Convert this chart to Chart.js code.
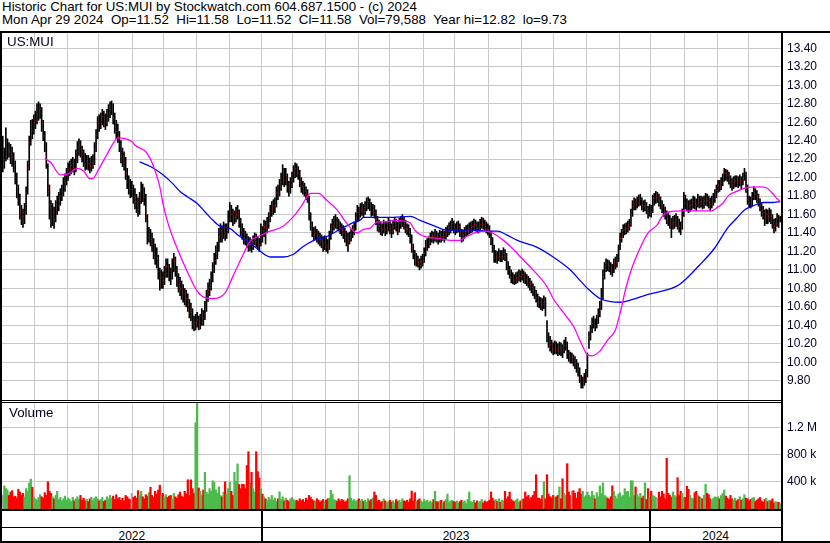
<!DOCTYPE html>
<html>
<head>
<meta charset="utf-8">
<script src="https://cdn.jsdelivr.net/npm/chart.js@4.4.1/dist/chart.umd.min.js"></script>
<style>
  html, body { margin: 0; padding: 0; background: #fff; }
  #wrap { position: relative; width: 830px; height: 543px; overflow: hidden; background: #fff;
          font-family: Arial, "Liberation Sans", sans-serif; color: #000; }
  .txt { position: absolute; white-space: pre; line-height: 14px; }
  .hdr { left: 2px; font-size: 13.33px; }
  .lbl { font-size: 13.33px; color: #000022; }
  .yr { font-size: 12px; text-align: center; width: 60px; top: 529px; }
  .ln { position: absolute; background: #000; }
  canvas { position: absolute; left: 0; }
</style>
</head>
<body>
<div id="wrap">
  <div class="txt hdr" style="top:0px">Historic Chart for US:MUI by Stockwatch.com 604.687.1500 - (c) 2024</div>
  <div class="txt hdr" style="top:13px">Mon Apr 29 2024  Op=11.52  Hi=11.58  Lo=11.52  Cl=11.58  Vol=79,588  Year hi=12.82  lo=9.73</div>
  <canvas id="priceChart" width="830" height="367" style="top:33px"></canvas>
  <canvas id="volChart" width="830" height="106" style="top:403px"></canvas>
  <div class="txt lbl" style="left:7px; top:35px">US:MUI</div>
  <div class="txt lbl" style="left:9px; top:406px">Volume</div>
  <div class="ln" style="left:0; top:31px; width:830px; height:2px"></div>
  <div class="ln" style="left:0; top:400px; width:782px; height:1px"></div>
  <div class="ln" style="left:0; top:402px; width:782px; height:1px"></div>
  <div class="ln" style="left:0; top:509px; width:782px; height:2px"></div>
  <div class="ln" style="left:0; top:527px; width:782px; height:1px"></div>
  <div class="ln" style="left:0; top:541px; width:830px; height:2px"></div>
  <div class="ln" style="left:0; top:31px; width:2px; height:512px"></div>
  <div class="ln" style="left:781px; top:31px; width:2px; height:512px"></div>
  <div id="years"></div>
</div>
<script>
// bars per month as spaced on the chart, May 2022 .. Apr 2024
const monthDays = [21,21,20,22,20,21,21,21, 20,21,21,20,22,20,22,21,21,21,21,20, 22,21,20,21];
const yearNames = ['2022', '2023', '2024'];
const yearMonthCount = [8, 12, 4];

const priceTicks = [9.8,10.0,10.2,10.4,10.6,10.8,11.0,11.2,11.4,11.6,11.8,12.0,12.2,12.4,12.6,12.8,13.0,13.2,13.4];
const volTicks = [400, 800, 1200];
const volTickLabels = ['400 k', '800 k', '1.2 M'];

const closes = [
  12.17,12.20,12.24,12.30,12.28,12.25,12.22,12.13,12.00,11.85,11.78,11.62,11.58,11.52,11.63,11.83,12.10,12.38,12.53,12.50,12.60,
  12.62,12.68,12.72,12.74,12.57,12.45,12.35,12.17,11.88,11.70,11.58,11.62,11.55,11.67,11.70,11.75,11.80,11.85,11.90,11.95,12.02,
  12.08,12.10,12.13,12.15,12.10,12.20,12.28,12.35,12.30,12.25,12.20,12.15,12.18,12.15,12.12,12.16,12.17,12.30,12.46,12.60,
  12.58,12.62,12.66,12.63,12.60,12.65,12.70,12.74,12.78,12.65,12.55,12.50,12.45,12.35,12.23,12.20,12.16,12.05,11.95,11.90,11.87,11.87,11.80,
  11.74,11.70,11.65,11.75,11.87,11.82,11.78,11.60,11.35,11.38,11.33,11.28,11.20,11.15,11.13,10.98,10.86,10.92,10.88,10.95,11.04,
  11.00,10.96,10.93,11.02,11.10,11.00,10.90,10.84,10.80,10.76,10.73,10.70,10.69,10.62,10.56,10.54,10.42,10.40,10.43,10.46,10.41,
  10.44,10.50,10.48,10.58,10.70,10.78,10.81,10.90,11.00,11.10,11.18,11.22,11.35,11.41,11.38,11.45,11.40,11.42,11.55,11.65,11.60,
  11.55,11.57,11.60,11.62,11.52,11.43,11.40,11.35,11.33,11.30,11.27,11.28,11.25,11.30,11.34,11.31,11.28,11.27,11.43,11.38,11.47,
  11.45,11.50,11.54,11.62,11.67,11.69,11.70,11.84,11.83,11.90,11.95,12.07,11.97,12.02,11.90,11.87,11.92,11.98,12.05,12.10,
  12.08,12.05,11.95,11.90,11.88,11.85,11.82,11.79,11.60,11.48,11.42,11.38,11.40,11.36,11.35,11.33,11.31,11.28,11.30,
  11.27,11.25,11.35,11.43,11.47,11.50,11.52,11.50,11.48,11.45,11.43,11.40,11.38,11.35,11.32,11.35,11.38,11.42,11.45,11.55,11.62,11.60,11.65,
  11.66,11.63,11.68,11.72,11.74,11.70,11.63,11.65,11.62,11.55,11.48,11.47,11.45,11.44,11.48,11.43,11.46,11.50,11.45,
  11.42,11.47,11.51,11.48,11.43,11.50,11.52,11.54,11.50,11.45,11.44,11.42,11.35,11.25,11.18,11.10,11.12,11.08,11.05,11.09,11.10,11.18,
  11.25,11.28,11.30,11.34,11.36,11.35,11.38,11.36,11.34,11.37,11.36,11.38,11.36,11.40,11.42,11.45,11.47,11.50,11.46,11.44,11.46,
  11.47,11.41,11.35,11.37,11.40,11.42,11.43,11.45,11.46,11.47,11.49,11.48,11.45,11.46,11.49,11.51,11.49,11.47,11.45,11.43,
  11.40,11.32,11.25,11.13,11.15,11.13,11.17,11.14,11.15,11.18,11.15,11.05,11.00,10.96,10.92,10.90,10.89,10.91,10.92,10.94,10.93,10.95,10.92,
  10.90,10.88,10.86,10.84,10.81,10.78,10.75,10.70,10.66,10.65,10.63,10.62,10.66,10.64,10.28,10.22,10.19,10.15,10.13,10.17,
  10.15,10.13,10.16,10.14,10.12,10.18,10.21,10.10,10.06,10.05,10.05,10.02,9.99,9.95,9.92,9.84,9.74,9.78,9.82,9.85,10.05,10.28,
  10.35,10.42,10.44,10.40,10.45,10.52,10.60,10.70,10.93,11.00,11.07,11.05,11.04,11.02,11.00,11.06,11.08,11.11,11.20,11.34,11.38,
  11.43,11.44,11.45,11.47,11.49,11.60,11.69,11.72,11.71,11.73,11.75,11.76,11.70,11.68,11.70,11.66,11.61,11.65,11.63,11.75,
  11.77,11.79,11.79,11.75,11.72,11.68,11.64,11.61,11.56,11.54,11.52,11.49,11.51,11.52,11.55,11.50,11.47,11.45,11.60,11.79,11.72,
  11.70,11.68,11.70,11.71,11.74,11.72,11.70,11.76,11.73,11.74,11.72,11.74,11.77,11.75,11.73,11.71,11.74,11.77,11.81,11.86,
  11.92,11.90,11.94,11.98,12.05,12.03,12.02,11.99,11.95,11.92,11.95,11.97,11.96,11.95,11.97,11.94,11.99,12.05,11.90,11.76,
  11.73,11.72,11.78,11.85,11.82,11.79,11.75,11.70,11.65,11.62,11.57,11.60,11.58,11.61,11.58,11.52,11.47,11.50,11.56,11.52,11.58
];

const highs = [
  12.45,12.32,12.54,12.42,12.38,12.36,12.33,12.27,12.18,12.05,11.92,11.82,11.70,11.66,11.72,11.90,12.18,12.45,12.62,12.63,12.68,
  12.72,12.80,12.82,12.80,12.76,12.62,12.50,12.38,12.15,11.92,11.75,11.72,11.68,11.75,11.80,11.84,11.88,11.92,12.00,12.04,12.10,
  12.16,12.18,12.20,12.22,12.20,12.30,12.39,12.42,12.40,12.34,12.30,12.26,12.24,12.24,12.21,12.23,12.25,12.38,12.52,12.66,
  12.68,12.70,12.74,12.72,12.69,12.74,12.79,12.82,12.83,12.80,12.70,12.62,12.58,12.50,12.40,12.32,12.28,12.22,12.10,12.02,11.98,11.96,11.92,
  11.88,11.82,11.78,11.84,11.95,11.93,11.89,11.82,11.60,11.46,11.44,11.40,11.34,11.28,11.24,11.16,11.02,11.00,10.98,11.04,11.12,
  11.12,11.06,11.02,11.12,11.18,11.14,11.04,10.96,10.92,10.88,10.84,10.80,10.78,10.74,10.68,10.64,10.58,10.50,10.52,10.54,10.50,
  10.52,10.58,10.56,10.66,10.78,10.86,10.90,10.98,11.08,11.18,11.26,11.30,11.45,11.50,11.48,11.52,11.50,11.50,11.64,11.73,11.70,
  11.66,11.64,11.68,11.70,11.65,11.56,11.50,11.45,11.42,11.39,11.36,11.35,11.33,11.37,11.40,11.39,11.36,11.34,11.50,11.47,11.54,
  11.53,11.57,11.62,11.70,11.74,11.76,11.78,11.90,11.92,11.98,12.05,12.14,12.10,12.10,12.04,11.96,12.00,12.06,12.13,12.16,
  12.15,12.12,12.08,12.00,11.96,11.94,11.90,11.87,11.80,11.62,11.52,11.46,11.47,11.44,11.42,11.40,11.38,11.36,11.37,
  11.35,11.33,11.42,11.50,11.55,11.58,11.60,11.57,11.55,11.52,11.50,11.48,11.45,11.42,11.40,11.41,11.44,11.48,11.52,11.62,11.70,11.68,11.72,
  11.73,11.71,11.74,11.78,11.79,11.77,11.73,11.71,11.70,11.65,11.58,11.54,11.52,11.50,11.54,11.52,11.52,11.56,11.54,
  11.50,11.53,11.57,11.55,11.52,11.56,11.58,11.60,11.57,11.54,11.50,11.49,11.45,11.38,11.28,11.21,11.18,11.15,11.12,11.15,11.17,11.24,
  11.32,11.34,11.36,11.40,11.42,11.41,11.44,11.42,11.40,11.43,11.42,11.44,11.42,11.46,11.48,11.51,11.53,11.56,11.53,11.50,11.52,
  11.53,11.50,11.44,11.43,11.46,11.48,11.49,11.51,11.52,11.53,11.55,11.54,11.52,11.52,11.55,11.57,11.56,11.54,11.52,11.50,
  11.48,11.42,11.35,11.27,11.21,11.20,11.23,11.21,11.21,11.24,11.22,11.18,11.09,11.04,11.00,10.97,10.95,10.97,10.98,11.00,10.99,11.01,10.99,
  10.97,10.95,10.93,10.91,10.88,10.85,10.82,10.78,10.74,10.71,10.70,10.69,10.72,10.70,10.45,10.32,10.28,10.24,10.21,10.23,
  10.22,10.20,10.22,10.21,10.19,10.24,10.27,10.22,10.13,10.11,10.10,10.08,10.06,10.03,9.99,9.94,9.86,9.84,9.88,9.92,10.10,10.33,
  10.40,10.48,10.50,10.47,10.51,10.58,10.66,10.80,11.00,11.08,11.12,11.11,11.10,11.08,11.06,11.12,11.14,11.17,11.27,11.40,11.44,
  11.49,11.50,11.51,11.53,11.55,11.66,11.75,11.78,11.77,11.79,11.81,11.82,11.78,11.75,11.76,11.73,11.69,11.71,11.70,11.81,
  11.83,11.85,11.84,11.82,11.79,11.75,11.71,11.68,11.64,11.61,11.59,11.56,11.58,11.59,11.61,11.58,11.55,11.52,11.66,11.84,11.81,
  11.77,11.75,11.76,11.77,11.80,11.79,11.77,11.82,11.80,11.80,11.79,11.80,11.83,11.82,11.80,11.78,11.80,11.83,11.87,11.92,
  11.97,11.97,12.00,12.04,12.10,12.09,12.08,12.06,12.02,11.99,12.01,12.02,12.02,12.01,12.03,12.01,12.05,12.10,12.06,11.92,
  11.80,11.79,11.84,11.90,11.88,11.86,11.82,11.77,11.72,11.69,11.65,11.66,11.65,11.67,11.65,11.60,11.55,11.56,11.61,11.59,11.58
];

const lows = [
  12.06,12.10,12.18,12.20,12.22,12.15,12.12,12.06,11.93,11.78,11.70,11.55,11.49,11.46,11.50,11.60,11.82,12.08,12.35,12.42,12.47,
  12.53,12.58,12.62,12.64,12.50,12.40,12.28,12.10,11.80,11.55,11.46,11.48,11.45,11.52,11.60,11.64,11.70,11.75,11.80,11.85,11.92,
  11.97,12.02,12.04,12.06,12.03,12.06,12.16,12.24,12.22,12.17,12.12,12.08,12.09,12.08,12.05,12.07,12.10,12.14,12.28,12.42,
  12.50,12.53,12.57,12.55,12.52,12.56,12.61,12.65,12.68,12.58,12.48,12.42,12.38,12.28,12.16,12.12,12.08,11.98,11.88,11.82,11.78,11.79,11.72,
  11.66,11.62,11.58,11.60,11.72,11.74,11.70,11.52,11.28,11.30,11.26,11.20,11.12,11.06,11.02,10.90,10.78,10.80,10.80,10.84,10.92,
  10.92,10.88,10.84,10.90,10.98,10.93,10.82,10.76,10.72,10.68,10.65,10.62,10.60,10.55,10.48,10.45,10.36,10.34,10.35,10.38,10.35,
  10.36,10.40,10.40,10.46,10.55,10.66,10.72,10.78,10.87,10.97,11.06,11.12,11.20,11.30,11.30,11.34,11.32,11.34,11.40,11.52,11.52,
  11.48,11.50,11.52,11.55,11.46,11.37,11.33,11.28,11.27,11.24,11.20,11.21,11.19,11.22,11.27,11.25,11.22,11.20,11.26,11.30,11.36,
  11.28,11.40,11.45,11.52,11.58,11.60,11.62,11.68,11.76,11.80,11.86,11.92,11.90,11.92,11.84,11.80,11.83,11.89,11.95,12.00,
  12.01,11.98,11.90,11.84,11.82,11.80,11.76,11.73,11.54,11.43,11.36,11.32,11.33,11.30,11.28,11.26,11.24,11.20,11.22,
  11.20,11.18,11.22,11.33,11.40,11.43,11.45,11.44,11.42,11.39,11.37,11.34,11.30,11.26,11.20,11.28,11.31,11.35,11.38,11.43,11.52,11.53,11.57,
  11.59,11.57,11.60,11.64,11.66,11.64,11.58,11.59,11.56,11.49,11.42,11.41,11.38,11.37,11.40,11.37,11.39,11.42,11.39,
  11.35,11.39,11.44,11.42,11.38,11.41,11.45,11.47,11.44,11.40,11.38,11.36,11.29,11.19,11.12,11.05,11.04,11.03,11.00,11.02,11.04,11.08,
  11.15,11.21,11.24,11.27,11.30,11.29,11.31,11.30,11.28,11.30,11.30,11.32,11.30,11.33,11.36,11.38,11.40,11.43,11.40,11.38,11.40,
  11.41,11.36,11.30,11.31,11.34,11.36,11.37,11.39,11.40,11.41,11.43,11.42,11.40,11.40,11.43,11.45,11.44,11.42,11.40,11.38,
  11.35,11.27,11.19,11.08,11.08,11.07,11.10,11.09,11.09,11.11,11.10,11.00,10.95,10.91,10.86,10.85,10.84,10.85,10.86,10.88,10.87,10.89,10.86,
  10.85,10.83,10.81,10.78,10.75,10.72,10.69,10.65,10.60,10.59,10.57,10.56,10.58,10.50,10.22,10.16,10.12,10.10,10.08,10.09,
  10.09,10.07,10.08,10.07,10.05,10.10,10.13,10.04,10.01,9.99,9.99,9.96,9.93,9.89,9.85,9.78,9.72,9.72,9.75,9.78,9.84,10.15,
  10.24,10.32,10.37,10.34,10.37,10.42,10.49,10.57,10.68,10.90,10.98,10.99,10.98,10.95,10.93,10.97,11.01,11.03,11.09,11.22,11.30,
  11.35,11.38,11.39,11.41,11.43,11.47,11.58,11.65,11.65,11.67,11.69,11.70,11.65,11.63,11.64,11.61,11.56,11.58,11.57,11.62,
  11.70,11.72,11.73,11.69,11.66,11.62,11.58,11.55,11.50,11.48,11.45,11.35,11.44,11.45,11.47,11.44,11.41,11.38,11.44,11.58,11.66,
  11.64,11.62,11.63,11.65,11.67,11.66,11.64,11.68,11.67,11.68,11.66,11.67,11.70,11.69,11.67,11.64,11.67,11.70,11.73,11.78,
  11.84,11.85,11.87,11.91,11.96,11.97,11.96,11.93,11.89,11.86,11.88,11.90,11.90,11.89,11.91,11.88,11.92,11.97,11.84,11.71,
  11.68,11.67,11.69,11.76,11.76,11.73,11.69,11.64,11.58,11.55,11.48,11.50,11.50,11.52,11.50,11.45,11.40,11.42,11.47,11.46,11.52
];

// volume in thousands of shares
const volumes = [
  200,340,300,280,200,250,270,180,190,160,290,250,200,230,180,300,260,380,440,320,170,
  150,130,170,210,180,160,240,200,400,260,230,180,150,200,260,140,170,120,150,190,130,
  160,140,110,170,120,150,180,140,200,130,160,120,140,110,150,170,130,160,180,150,
  120,140,170,110,130,180,150,200,160,190,140,210,150,170,130,160,120,200,180,150,140,230,170,
  190,160,270,200,260,180,150,210,190,240,320,200,170,260,220,280,350,200,230,180,210,
  170,190,200,150,230,180,160,210,250,190,170,260,220,430,200,430,300,230,1270,1580,310,
  260,200,280,540,250,220,300,260,415,390,280,230,325,200,180,250,400,220,300,395,260,
  200,540,405,663,360,300,365,360,300,640,843,380,540,300,250,843,550,455,300,220,180,
  150,120,170,140,200,130,160,110,150,254,140,180,120,160,130,110,150,170,140,120,
  130,110,150,120,140,100,160,130,200,170,140,120,110,150,130,100,120,140,110,
  130,150,160,274,220,140,130,110,150,120,140,130,100,120,150,490,160,120,140,110,130,150,120,
  140,110,130,100,150,120,140,160,250,200,120,130,100,110,150,120,90,110,130,
  100,120,90,140,110,130,100,150,120,110,130,100,150,264,120,240,110,130,150,120,100,140,
  110,130,100,120,90,140,260,110,100,120,130,90,110,140,220,100,120,130,110,100,120,
  90,110,130,100,120,80,140,250,110,100,130,90,120,100,110,140,90,120,100,110,
  130,250,160,120,140,110,150,100,130,120,260,150,180,250,140,120,110,130,150,100,120,140,150,
  250,180,200,150,170,200,260,505,160,160,140,200,400,150,505,220,180,160,200,170,
  180,200,325,150,445,230,200,667,250,200,260,270,230,160,250,300,220,260,180,200,250,200,
  180,260,200,150,240,180,340,230,385,200,180,160,140,180,340,260,190,150,220,240,180,
  200,300,250,260,180,415,415,200,325,220,180,230,160,190,385,140,300,170,260,200,
  190,170,160,250,180,260,220,150,748,230,200,170,250,200,180,460,200,260,230,170,170,
  335,290,200,160,150,240,260,200,180,160,150,200,365,230,210,150,130,160,180,170,
  180,150,200,230,280,190,160,140,200,150,130,160,120,140,180,130,150,210,160,150,
  120,140,160,170,110,130,150,170,120,100,140,160,110,130,120,150,90,110,100,100,80
];

// moving averages (bar index, price)
const fastIdx = [27,31,37,42,48,52,56,58,61,67,71,74,79,83,85,92,95,98,101,103,106,109,114,119,125,130,135,139,143,148,155,159,164,169,172,180,187,192,198,203,208,215,221,228,232,236,241,247,252,257,262,265,270,275,281,288,294,298,305,311,315,322,328,333,341,350,354,360,367,373,376,379,384,389,394,397,401,405,410,415,421,424,429,437,448,456,459,463,467,472,478,487,491,495,498,500];
const fastVals = [12.21,12.16,12.03,12.04,12.10,12.07,11.99,11.99,12.07,12.25,12.37,12.43,12.42,12.39,12.35,12.28,12.20,12.07,11.90,11.72,11.52,11.37,11.16,10.97,10.77,10.70,10.69,10.70,10.75,10.93,11.18,11.31,11.36,11.40,11.42,11.47,11.58,11.69,11.83,11.83,11.76,11.65,11.51,11.40,11.44,11.45,11.52,11.52,11.54,11.53,11.51,11.43,11.37,11.35,11.34,11.32,11.32,11.36,11.41,11.42,11.40,11.32,11.23,11.14,11.00,10.82,10.69,10.55,10.39,10.17,10.08,10.07,10.12,10.24,10.35,10.53,10.82,11.04,11.24,11.40,11.49,11.58,11.63,11.64,11.64,11.64,11.67,11.72,11.81,11.85,11.89,11.90,11.89,11.83,11.77,11.74];
const slowIdx = [88,95,103,109,114,119,125,130,135,140,146,151,157,162,169,172,180,187,193,200,208,217,225,230,232,241,251,262,268,277,283,292,302,313,318,324,331,336,343,354,365,371,376,384,390,397,405,414,419,435,448,458,466,472,477,482,489,495,500];
const slowVals = [12.17,12.12,12.03,11.94,11.85,11.79,11.72,11.63,11.54,11.47,11.45,11.38,11.31,11.25,11.16,11.14,11.14,11.17,11.25,11.32,11.36,11.44,11.51,11.54,11.57,11.57,11.57,11.58,11.54,11.48,11.44,11.43,11.43,11.42,11.42,11.38,11.32,11.29,11.25,11.14,11.00,10.89,10.80,10.69,10.66,10.65,10.68,10.73,10.75,10.84,11.05,11.24,11.45,11.56,11.65,11.69,11.73,11.73,11.74];

// ---- derived tables for the library ----
const monthStarts = [];
let acc = 0;
monthDays.forEach(d => { monthStarts.push(acc); acc += d; });
const barCount = acc;
const yearStarts = [];
let m = 0;
yearMonthCount.forEach(n => { yearStarts.push(monthStarts[m]); m += n; });

const hlBars = closes.map((c, i) => ({ x: i, y: [lows[i], highs[i]] }));
const closeMarks = closes.map((c, i) => ({ x: i + 0.4, y: c }));
const fastLine = fastIdx.map((x, k) => ({ x: x, y: fastVals[k] }));
const slowLine = slowIdx.map((x, k) => ({ x: x, y: slowVals[k] }));
const volBars = volumes.map((v, i) => ({ x: i, y: v }));
const volColors = volumes.map((v, i) => {
  if (i === 0 || closes[i] === closes[i - 1]) return '#a8a8a8';
  return closes[i] > closes[i - 1] ? '#4cbb4c' : '#ff0000';
});

const gridColor = '#c8c8c8';
const axisFont = { family: 'Arial, "Liberation Sans", sans-serif', size: 12 };

function xScale() {
  return {
    type: 'linear',
    min: -0.5,
    max: barCount - 0.5,
    offset: false,
    ticks: { display: false },
    grid: { color: gridColor, lineWidth: 1, drawTicks: false, offset: false },
    border: { display: false },
    afterBuildTicks: s => { s.ticks = monthStarts.slice(1).map(v => ({ value: v - 0.5 })); },
    afterFit: s => { s.height = 0; s.paddingLeft = 0; s.paddingRight = 0; }
  };
}

function yFit(s) {
  s.width = 49;
  s.paddingTop = 0;
  s.paddingBottom = 0;
}

const baseOptions = {
  responsive: false,
  animation: false,
  events: [],
  layout: { autoPadding: false, padding: { left: 2, right: 0, top: 0, bottom: 0 } },
  plugins: { legend: { display: false }, tooltip: { enabled: false } }
};

const priceChart = new Chart(document.getElementById('priceChart'), {
  type: 'bar',
  data: {
    datasets: [
      { type: 'scatter', data: closeMarks, pointStyle: 'rect', pointRadius: 0.6, backgroundColor: '#ff0000', borderWidth: 0, order: 0 },
      { type: 'line', data: fastLine, borderColor: '#ff00ff', borderWidth: 1.3, pointRadius: 0, cubicInterpolationMode: 'monotone', order: 1 },
      { type: 'line', data: slowLine, borderColor: '#0000ff', borderWidth: 1.3, pointRadius: 0, cubicInterpolationMode: 'monotone', order: 2 },
      { type: 'bar', data: hlBars, backgroundColor: '#000000', barThickness: 1, order: 3 }
    ]
  },
  options: Object.assign({}, baseOptions, {
    scales: {
      x: xScale(),
      y: {
        position: 'right',
        min: 9.591,
        max: 13.566,
        afterBuildTicks: s => { s.ticks = priceTicks.map(v => ({ value: v })); },
        afterFit: yFit,
        ticks: { color: '#000022', font: axisFont, padding: 6, callback: v => v.toFixed(2) },
        grid: { color: gridColor, lineWidth: 1, drawTicks: false },
        border: { display: false }
      }
    }
  })
});

const volChart = new Chart(document.getElementById('volChart'), {
  type: 'bar',
  data: {
    datasets: [
      { data: volBars, backgroundColor: volColors, barThickness: 1.6 }
    ]
  },
  options: Object.assign({}, baseOptions, {
    scales: {
      x: xScale(),
      y: {
        position: 'right',
        min: 0,
        max: 1560,
        afterBuildTicks: s => { s.ticks = volTicks.map(v => ({ value: v })); },
        afterFit: yFit,
        ticks: { color: '#000022', font: axisFont, padding: 6,
                 callback: v => volTickLabels[volTicks.indexOf(v)] },
        grid: { color: gridColor, lineWidth: 1, drawTicks: false },
        border: { display: false }
      }
    }
  })
});

// year strip under the volume panel, placed with the chart's x scale
const xs = volChart.scales.x;
const yearsBox = document.getElementById('years');
const bounds = yearStarts.map(s => xs.getPixelForValue(s - 0.5)).concat([xs.right]);
yearNames.forEach((name, k) => {
  const left = Math.max(bounds[k], 0);
  const mid = (left + bounds[k + 1]) / 2;
  const el = document.createElement('div');
  el.className = 'txt yr';
  el.style.left = (mid - 30) + 'px';
  el.textContent = name;
  yearsBox.appendChild(el);
  if (k > 0) {
    const ln = document.createElement('div');
    ln.className = 'ln';
    ln.style.cssText = 'left:' + Math.round(bounds[k] - 1) + 'px; top:511px; width:2px; height:32px';
    yearsBox.appendChild(ln);
  }
});
</script>
</body>
</html>
